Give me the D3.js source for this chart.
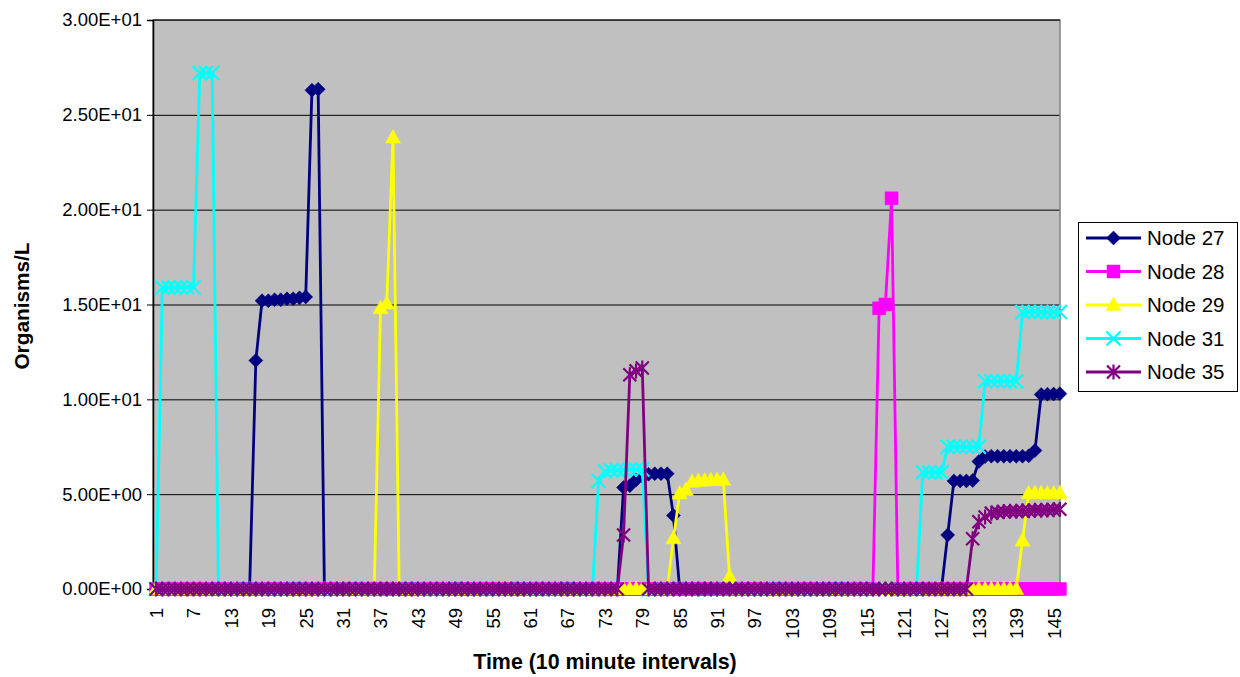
<!DOCTYPE html>
<html><head><meta charset="utf-8">
<script src="https://cdn.jsdelivr.net/npm/d3@7"></script>
<style>body{margin:0;background:#fff}svg{display:block;font-family:Arial,"Liberation Sans",sans-serif}</style>
</head><body><svg id="c" width="1240" height="677"></svg>
<script>
// ---------- data ----------
const categories = d3.range(1, 147);
const xTickLabels = [1,7,13,19,25,31,37,43,49,55,61,67,73,79,85,91,97,103,109,115,121,127,133,139,145];
const yTicks = [0,5,10,15,20,25,30];
const seriesNames = ["Node 27","Node 28","Node 29","Node 31","Node 35"];
const seriesColors = ["#000080","#FF00FF","#FFFF00","#00FFFF","#800080"];
const seriesMarkers = ["diamond","square","triangle","x","star"];

const node27 = [
 0,0,0,0,0,0,0,0,0,0,0,0,0,0,0,0,
 12.05,15.2,15.2,15.25,15.25,15.3,15.3,15.35,15.4,26.3,26.35,
 0,0,0,0,0,0,0,0,0,0,0,0,0,0,0,0,0,0,0,0,0,0,0,0,0,0,0,0,0,0,0,0,0,0,0,0,0,0,0,0,0,0,0,0,0,0,0,0,
 5.35,5.45,5.75,5.95,6.05,6.08,6.08,6.08,3.87,
 0,0,0,0,0,0,0,0,0,0,0,0,0,0,0,0,0,0,0,0,0,0,0,0,0,0,0,0,0,0,0,0,0,0,0,0,0,0,0,0,0,0,0,
 2.85,5.7,5.7,5.7,5.72,6.72,6.98,7.0,7.0,7.0,7.0,7.0,7.0,7.02,7.3,10.25,10.27,10.28,10.3
];
const node28 = [
 0,0,0,0,0,0,0,0,0,0,0,0,0,0,0,0,0,0,0,0,0,0,0,0,0,0,0,0,0,0,0,0,0,0,0,0,0,0,0,0,
 0,0,0,0,0,0,0,0,0,0,0,0,0,0,0,0,0,0,0,0,0,0,0,0,0,0,0,0,0,0,0,0,0,0,0,0,0,0,0,0,
 0,0,0,0,0,0,0,0,0,0,0,0,0,0,0,0,0,0,0,0,0,0,0,0,0,0,0,0,0,0,0,0,0,0,0,0,
 14.8,15.0,20.6,
 0,0,0,0,0,0,0,0,0,0,0,0,0,0,0,0,0,0,0,0,0,0,0,0,0,0,0
];
const node29 = [
 0,0,0,0,0,0,0,0,0,0,0,0,0,0,0,0,0,0,0,0,0,0,0,0,0,0,0,0,0,0,0,0,0,0,0,0,
 14.8,15.05,23.8,
 0,0,0,0,0,0,0,0,0,0,0,0,0,0,0,0,0,0,0,0,0,0,0,0,0,0,0,0,0,0,0,0,0,0,0,0,0,0,0,0,0,0,0,0,
 2.67,5.04,5.22,5.65,5.7,5.72,5.74,5.75,5.76,0.65,
 0,0,0,0,0,0,0,0,0,0,0,0,0,0,0,0,0,0,0,0,0,0,0,0,0,0,0,0,0,0,0,0,0,0,0,0,0,0,0,0,0,0,0,0,0,0,
 2.55,5.05,5.05,5.05,5.05,5.05,5.05
];
const node31 = [
 0,15.9,15.9,15.9,15.9,15.9,15.9,27.2,27.2,27.2,
 0,0,0,0,0,0,0,0,0,0,0,0,0,0,0,0,0,0,0,0,0,0,0,0,0,0,0,0,0,0,0,0,0,0,0,0,0,0,0,0,
 0,0,0,0,0,0,0,0,0,0,0,0,0,0,0,0,0,0,0,0,0,
 5.69,6.2,6.25,6.27,6.28,6.3,6.3,6.3,
 0,0,0,0,0,0,0,0,0,0,0,0,0,0,0,0,0,0,0,0,0,0,0,0,0,0,0,0,0,0,0,0,0,0,0,0,0,0,0,0,0,0,0,0,
 6.15,6.15,6.15,6.15,7.5,7.5,7.5,7.5,7.5,7.5,10.95,10.95,10.95,10.95,10.95,10.95,
 14.6,14.6,14.6,14.6,14.6,14.6,14.6
];
const node35 = [
 0,0,0,0,0,0,0,0,0,0,0,0,0,0,0,0,0,0,0,0,0,0,0,0,0,0,0,0,0,0,0,0,0,0,0,0,0,0,0,0,
 0,0,0,0,0,0,0,0,0,0,0,0,0,0,0,0,0,0,0,0,0,0,0,0,0,0,0,0,0,0,0,0,0,0,0,
 2.85,11.3,11.5,11.65,
 0,0,0,0,0,0,0,0,0,0,0,0,0,0,0,0,0,0,0,0,0,0,0,0,0,0,0,0,0,0,0,0,0,0,0,0,0,0,0,0,0,0,0,0,0,0,0,0,0,0,0,0,
 2.65,3.55,3.8,4.0,4.05,4.08,4.1,4.1,4.12,4.13,4.15,4.15,4.17,4.18,4.2
];
const seriesValues = [node27, node28, node29, node31, node35];

// ---------- layout ----------
const svg = d3.select("#c");
const P = {left:153, right:1060, top:20, bottom:589};
const x = d3.scalePoint().domain(categories).range([P.left, P.right + 3]).padding(0.5);
const y = d3.scaleLinear().domain([0,30]).range([P.bottom, P.top]);

function sci(v){
  const parts = v.toExponential(2).split("e");
  const n = +parts[1];
  return parts[0] + "E" + (n < 0 ? "-" : "+") + String(Math.abs(n)).padStart(2,"0");
}

svg.append("rect").attr("width",1240).attr("height",677).attr("fill","#fff");
svg.append("rect").attr("x",P.left).attr("y",P.top).attr("width",P.right-P.left).attr("height",P.bottom-P.top)
  .attr("fill","#C0C0C0");

// gridlines
const grid = svg.append("g").attr("transform",`translate(${P.left},0)`)
  .call(d3.axisLeft(y).tickValues(yTicks).tickSize(-(P.right-P.left)).tickFormat(""));
grid.select(".domain").remove();
grid.selectAll("line").attr("stroke","#000").attr("stroke-width",1);

// plot border
svg.append("rect").attr("x",P.left).attr("y",P.top).attr("width",P.right-P.left).attr("height",P.bottom-P.top)
  .attr("fill","none").attr("stroke","#808080").attr("stroke-width",1.5);
svg.append("line").attr("x1",P.left).attr("x2",P.right).attr("y1",P.top).attr("y2",P.top).attr("stroke","#000");

// y axis
const ya = svg.append("g").attr("transform",`translate(${P.left},0)`)
  .call(d3.axisLeft(y).tickValues(yTicks).tickFormat(sci).tickSize(6).tickPadding(5));
ya.select(".domain").attr("stroke","#000").attr("stroke-width",1.5);
ya.selectAll("line").attr("stroke","#000");
ya.selectAll("text").attr("font-size",18.5).attr("fill","#000").attr("font-family","Arial, 'Liberation Sans', sans-serif");

// x axis
const xa = svg.append("g").attr("transform",`translate(0,${P.bottom})`)
  .call(d3.axisBottom(x).tickValues(xTickLabels).tickSize(0));
xa.select(".domain").attr("stroke","#000").attr("stroke-width",1.5);
xa.selectAll("text")
  .attr("transform","rotate(-90)")
  .attr("x",-19).attr("y",0).attr("dy","0.35em")
  .attr("text-anchor","end")
  .attr("font-size",18.5).attr("fill","#000").attr("font-family","Arial, 'Liberation Sans', sans-serif");

// axis titles
svg.append("text").attr("transform","translate(29,306) rotate(-90)").attr("text-anchor","middle")
  .attr("font-weight","bold").attr("font-size",20.8).text("Organisms/L");
svg.append("text").attr("x",605).attr("y",669).attr("text-anchor","middle")
  .attr("font-weight","bold").attr("font-size",21.4).text("Time (10 minute intervals)");

// markers
function markerPath(type){
  switch(type){
    case "diamond": return "M0,-7L7,0L0,7L-7,0Z";
    case "square": return "M-6.5,-6.5H6.5V6.5H-6.5Z";
    case "triangle": return "M0,-8L7.5,5.5L-7.5,5.5Z";
    case "x": return "M-7,-7L7,7M-7,7L7,-7";
    case "star": return "M-6.5,-6.5L6.5,6.5M-6.5,6.5L6.5,-6.5M0,-7.5L0,7.5";
  }
}
function drawMarker(sel, type, color){
  const filled = (type==="diamond"||type==="square"||type==="triangle");
  sel.append("path").attr("d",markerPath(type))
    .attr("fill", filled ? color : "none")
    .attr("stroke", color).attr("stroke-width", filled ? 0.5 : 2.2);
}

const line = d3.line().x((d,i)=>x(categories[i])).y(d=>y(d));
seriesValues.forEach((vals, si) => {
  const g = svg.append("g");
  g.append("path").datum(vals).attr("d",line).attr("fill","none")
    .attr("stroke",seriesColors[si]).attr("stroke-width",2.8).attr("stroke-linejoin","round");
  g.selectAll("g.m").data(vals).join("g").attr("class","m")
    .attr("transform",(d,i)=>`translate(${x(categories[i])},${y(d)})`)
    .each(function(){ drawMarker(d3.select(this), seriesMarkers[si], seriesColors[si]); });
});

// legend
const L = svg.append("g");
L.append("rect").attr("x",1078.5).attr("y",222.5).attr("width",159).attr("height",169)
  .attr("fill","#fff").attr("stroke","#000").attr("stroke-width",1);
seriesNames.forEach((name, i) => {
  const cy = 238 + i*33.5;
  L.append("line").attr("x1",1086).attr("x2",1141).attr("y1",cy).attr("y2",cy)
    .attr("stroke",seriesColors[i]).attr("stroke-width",2.8);
  const m = L.append("g").attr("transform",`translate(1113.5,${cy})`);
  drawMarker(m, seriesMarkers[i], seriesColors[i]);
  L.append("text").attr("x",1147).attr("y",cy).attr("dy","0.35em").attr("font-size",20.5)
    .attr("fill","#000").text(name);
});
</script></body></html>
